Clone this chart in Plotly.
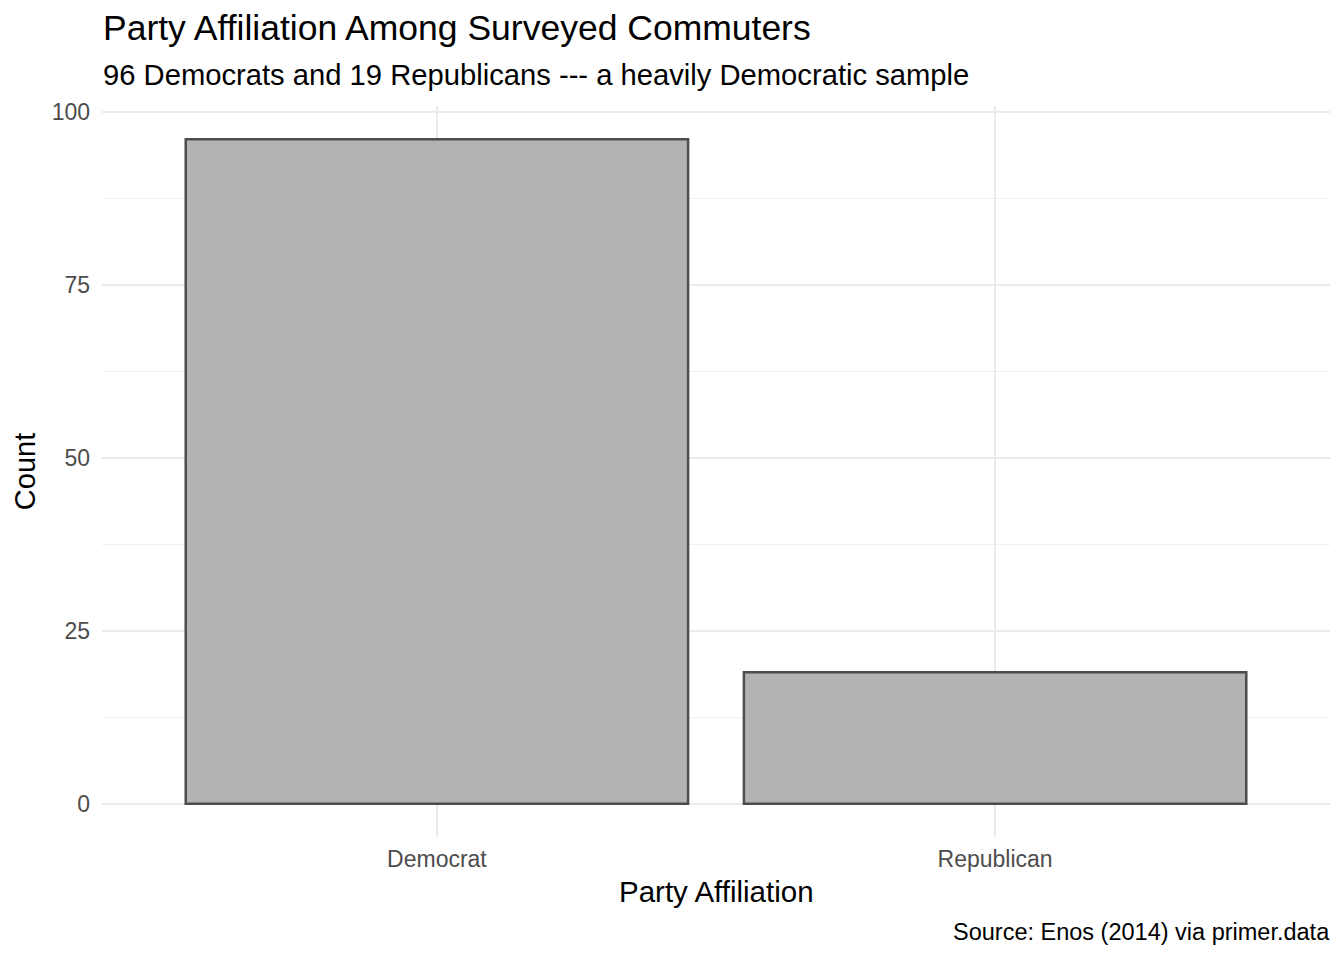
import plotly.graph_objs as go

parties = ["Democrat", "Republican"]
counts = [96, 19]
y_ticks = [0, 25, 50, 75, 100]

title = "Party Affiliation Among Surveyed Commuters"
subtitle = "96 Democrats and 19 Republicans --- a heavily Democratic sample"
caption = "Source: Enos (2014) via primer.data"

font = "Liberation Sans, Arial, sans-serif"

fig = go.Figure()
fig.add_trace(go.Bar(
    x=parties, y=counts, width=0.9,
    marker=dict(color="#B3B3B3", line=dict(color="#4D4D4D", width=2.5)),
    hoverinfo="x+y",
))

# page body adds 8px offset, so margins are shifted to compensate
fig.update_layout(
    width=1344, height=960,
    margin=dict(l=94, r=22, t=98, b=131),
    plot_bgcolor="white", paper_bgcolor="white",
    font=dict(family=font, color="black"),
    showlegend=False,
    bargap=0.1,
)

fig.update_xaxes(
    range=[-0.6, 1.6],
    showgrid=True, gridcolor="#EBEBEB", gridwidth=2,
    zeroline=False, showline=False, ticks="",
    tickfont=dict(size=23, color="#4D4D4D"),
    ticklabelstandoff=6,
)
fig.update_yaxes(
    range=[-4.8, 100.8],
    tickvals=y_ticks,
    showgrid=True, gridcolor="#EBEBEB", gridwidth=2,
    minor=dict(showgrid=True, gridcolor="#F0F0F0", gridwidth=1, tick0=12.5, dtick=25),
    zeroline=False, showline=False, ticks="",
    tickfont=dict(size=23, color="#4D4D4D"),
    ticklabelstandoff=11,
)

annotations = [
    dict(text=title, x=-0.0009, y=1.107, xanchor="left", yanchor="middle",
         font=dict(size=35.5, color="black")),
    dict(text=subtitle, x=-0.0009, y=1.042, xanchor="left", yanchor="middle",
         font=dict(size=29.2, color="black")),
    dict(text="Party Affiliation", x=0.5, y=-0.074, xanchor="center", yanchor="middle",
         font=dict(size=29.5, color="black")),
    dict(text="Count", x=-0.063, y=0.5, xanchor="center", yanchor="middle", textangle=-90,
         font=dict(size=29, color="black")),
    dict(text=caption, x=1.002, y=-0.13, xanchor="right", yanchor="middle",
         font=dict(size=23.5, color="black")),
]
for a in annotations:
    a.update(xref="paper", yref="paper", showarrow=False)
fig.update_layout(annotations=annotations)

fig.write_html("out.html")
